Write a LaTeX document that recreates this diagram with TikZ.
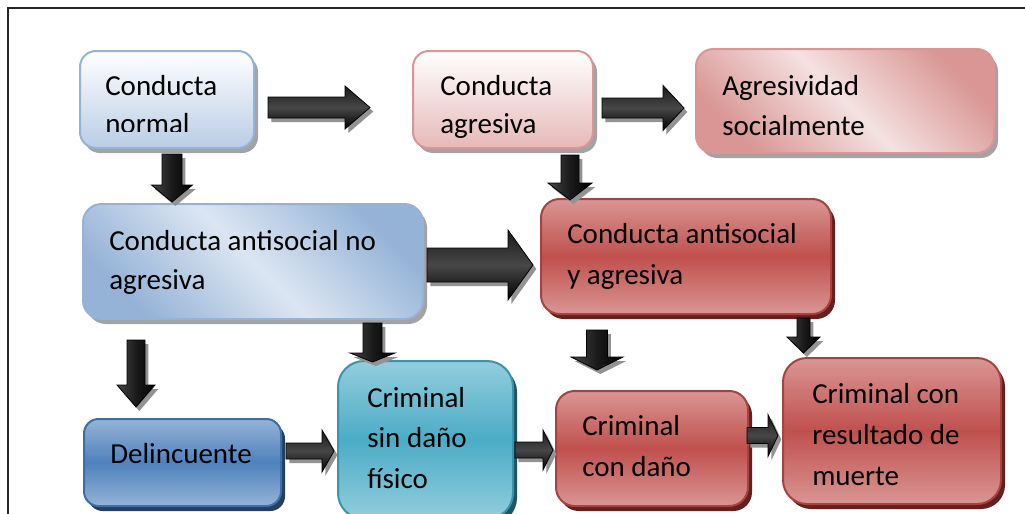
\documentclass[tikz,border=0pt]{standalone}
\usepackage{fontspec}
\setmainfont{Carlito}
\usetikzlibrary{shadows}
\definecolor{bA}{HTML}{95B3D7}
\definecolor{bAf}{HTML}{B9CDE5}
\definecolor{bAl}{HTML}{DCE6F2}
\definecolor{pA}{HTML}{D99694}
\definecolor{pAf}{HTML}{E6B9B8}
\definecolor{pAl}{HTML}{F4E2E1}
\definecolor{redm}{HTML}{C0504D}
\definecolor{redb}{HTML}{A8423F}
\definecolor{redl}{HTML}{D99694}
\definecolor{redsh}{HTML}{62201E}
\definecolor{blum}{HTML}{4F81BD}
\definecolor{blul}{HTML}{95B3D7}
\definecolor{blub}{HTML}{3F6DA6}
\definecolor{blush}{HTML}{253F63}
\definecolor{team}{HTML}{4BACC6}
\definecolor{teal2}{HTML}{93CDDD}
\definecolor{teab}{HTML}{3A94AD}
\definecolor{teash}{HTML}{1D5563}
\definecolor{lsh}{HTML}{A3A3A3}
\definecolor{ash}{HTML}{939393}
\definecolor{agt}{HTML}{1A1A1A}
\definecolor{agm}{HTML}{474747}
\newcommand\bx[7]{\node[box,rounded corners=#6,#7,minimum width={(#4-#2)*0.75pt},minimum height={(#5-#3)*0.75pt},anchor=north west] (#1) at (#2,#3) {};}
\newcommand\rarr[6]{\path[blkH] ({#1},{#4-#5}) -- ({#2},{#4-#5}) -- ({#2},{#4-#6}) -- ({#3},{#4}) -- ({#2},{#4+#6}) -- ({#2},{#4+#5}) -- ({#1},{#4+#5}) -- cycle;}
\newcommand\darr[6]{\path[blkV] ({#4-#5},{#1}) -- ({#4-#5},{#2}) -- ({#4-#6},{#2}) -- ({#4},{#3}) -- ({#4+#6},{#2}) -- ({#4+#5},{#2}) -- ({#4+#5},{#1}) -- cycle;}
\begin{document}
\begin{tikzpicture}[x=0.75pt,y=-0.75pt,
  box/.style={rectangle,inner sep=0pt,line width=1.5pt},
  lshad/.style={general shadow={fill=lsh,shadow xshift=3pt,shadow yshift=-3.75pt}},
  rshad/.style={general shadow={fill=redsh,shadow xshift=3pt,shadow yshift=-3.75pt}},
  redbox/.style={rshad,draw=redb,top color=redl,bottom color=redl,middle color=redm},
  txt/.style={inner sep=0pt,anchor=base west,font=\fontsize{21.75pt}{28pt}\selectfont,text=black},
  frame/.style={draw=black!85,line width=1.2pt},
  blkH/.style={draw=black,line width=0.6pt,top color=agt,bottom color=black,middle color=agm,
    general shadow={fill=ash,shadow xshift=2.5pt,shadow yshift=-3pt}},
  blkV/.style={draw=black,line width=0.6pt,left color=agm,right color=black,middle color=agt,
    general shadow={fill=ash,shadow xshift=2.5pt,shadow yshift=-3pt}}]
\clip (0,0) rectangle (1025,514);
\fill[white] (0,0) rectangle (1025,514);
\draw[frame] (8,514) -- (8,8) -- (1025,8);

% boxes
\bx{b1}{79}{50}{253}{147}{12pt}{lshad,draw=bA,top color=white,bottom color=bAf}
\bx{b2}{412}{50}{592}{147}{12pt}{lshad,draw=pA,top color=white,bottom color=pAf}
\bx{b3}{695}{48}{993}{152}{13pt}{lshad,draw=pA,left color=pA,right color=pA,middle color=pAl,shading angle=-45}
\bx{b4}{82}{203}{422}{318}{14pt}{lshad,draw=bA,left color=bA,right color=bA,middle color=bAl,shading angle=-45}
\bx{b5}{540}{198}{830}{313}{14pt}{redbox}
\bx{b6}{83}{418}{280}{505}{11pt}{general shadow={fill=blush,shadow xshift=3pt,shadow yshift=-3.75pt},draw=blub,top color=blul,bottom color=blul,middle color=blum}
\bx{b7}{337}{360}{512}{518}{19.5pt}{general shadow={fill=teash,shadow xshift=3pt,shadow yshift=-3.75pt},draw=teab,top color=teal2,bottom color=teal2,middle color=team}
\bx{b8}{555}{390}{747}{505}{14pt}{redbox}
\bx{b9}{782}{357}{1000}{503}{18pt}{redbox}

% texts
\begin{scope}
\clip (79,50) rectangle (253,131.5);
\node[txt] (t1) at (105,95) {\vtop{\baselineskip=28.5pt\hbox{Conducta}\hbox{normal}}};
\end{scope}
\begin{scope}
\clip (412,50) rectangle (592,137.5);
\node[txt] (t2) at (440,95) {\vtop{\baselineskip=28.5pt\hbox{Conducta}\hbox{agresiva}}};
\end{scope}
\node[txt] (t3) at (722,95) {\vtop{\baselineskip=30pt\hbox{Agresividad}\hbox{socialmente}}};
\node[txt] (t4) at (109,250) {\vtop{\baselineskip=29.25pt\hbox{Conducta antisocial no}\hbox{agresiva}}};
\node[txt] (t5) at (567,243) {\vtop{\baselineskip=30.75pt\hbox{Conducta antisocial}\hbox{y agresiva}}};
\node[txt] (t6) at (110,463) {Delincuente};
\node[txt] (t7) at (367,407) {\vtop{\baselineskip=30.4pt\hbox{Criminal}\hbox{sin daño}\hbox{físico}}};
\node[txt] (t8) at (582,435) {\vtop{\baselineskip=30.75pt\hbox{Criminal}\hbox{con daño}}};
\node[txt] (t9) at (812,403) {\vtop{\baselineskip=30.75pt\hbox{Criminal con}\hbox{resultado de}\hbox{muerte}}};

% horizontal block arrows: x0 xh xtip yc shaft-half head-half
\rarr{268}{345}{370}{107.5}{10.5}{21.5}
\rarr{602}{663}{684}{108}{10}{22.5}
\rarr{427}{508}{533}{265}{17}{35}
\rarr{286}{322}{334}{451}{8}{21}
\rarr{515}{543}{553}{450}{8}{20}
\rarr{747}{768}{778}{435.5}{8}{21}
% vertical block arrows: y0 yh ytip xc shaft-half head-half
\darr{154}{185}{202}{172}{10}{20.5}
\darr{155}{183}{200}{570}{9}{22}
\darr{323}{353}{362}{372.5}{9.5}{22.5}
\darr{340}{385}{407}{136}{9}{19}
\darr{330}{357}{370}{597}{10.5}{26}
\darr{318}{337}{353}{803.5}{6.5}{16.5}
\end{tikzpicture}
\end{document}
